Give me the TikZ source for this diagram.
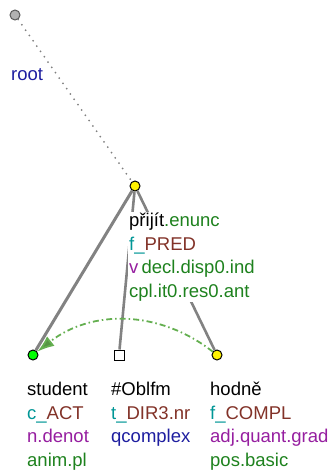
\documentclass[tikz,border=0pt]{standalone}
\usepackage{fontspec}
\setmainfont{Liberation Sans}
\usetikzlibrary{arrows.meta}

\definecolor{lemmacol}{RGB}{0,0,0}
\definecolor{tagcol}{RGB}{30,130,30}
\definecolor{funcol}{RGB}{0,150,150}
\definecolor{afuncol}{RGB}{130,50,40}
\definecolor{semcol}{RGB}{150,30,160}
\definecolor{rootcol}{RGB}{30,30,160}
\definecolor{edgecol}{RGB}{130,130,130}
\definecolor{corefcol}{RGB}{100,175,80}

\begin{document}
\begin{tikzpicture}
[
	x=1pt,
	y=-1pt,
	tnode/.style={circle,draw=black,line width=1pt,inner sep=0pt,minimum size=10pt},
	hiddennode/.style={rectangle,draw=black,line width=1pt,fill=white,inner sep=0pt,minimum size=10pt},
	lbl/.style={anchor=north west,align=left,fill=white,inner sep=1pt,
		font=\fontsize{18.5}{23.5}\selectfont},
	edge/.style={draw=edgecol,line width=2.6pt},
	coref/.style={draw=corefcol,line width=1.8pt,dash pattern=on 6pt off 3pt on 1.5pt off 3pt}
]

	\useasboundingbox (0,0) rectangle (334,474);

	% nodes
	\node[tnode,fill=gray!60,draw=gray!70!black] (root) at (15,15) {};
	\node[tnode,fill=yellow] (prijit) at (135,186) {};
	\node[tnode,fill=green] (student) at (33,355) {};
	\node[hiddennode] (oblfm) at (119,355) {};
	\node[tnode,fill=yellow] (hodne) at (217,355) {};

	% edges
	\draw[draw=gray,line width=2pt,line cap=round,dash pattern=on 0pt off 6.5pt] (root) -- (prijit);
	\draw[edge,line width=3pt] (prijit) -- (student);
	\draw[edge] (prijit) -- (oblfm);
	\draw[edge] (prijit) -- (hodne);

	% coreference
	\draw[coref,-{Latex[length=17pt,width=12pt,fill=corefcol!85!black]}] (hodne) to[bend right=38] (student);

	% labels
	\node[lbl,anchor=west,fill=none] (root-lbl) at (10,75)
		{\textcolor{rootcol}{root}};
	\node[lbl] (prijit-lbl) at (128,212)
		{\textcolor{lemmacol}{přijít}\textcolor{tagcol}{.enunc}\\
		 \textcolor{funcol}{f\_}\textcolor{afuncol}{PRED}\\
		 \textcolor{semcol}{v}\,\textcolor{tagcol}{decl.disp0.ind}\\
		 \textcolor{tagcol}{cpl.it0.res0.ant}};
	\node[lbl] (student-lbl) at (26,381)
		{\textcolor{lemmacol}{student}\\
		 \textcolor{funcol}{c\_}\textcolor{afuncol}{ACT}\\
		 \textcolor{semcol}{n.denot}\\
		 \textcolor{tagcol}{anim.pl}};
	\node[lbl] (oblfm-lbl) at (110,381)
		{\textcolor{lemmacol}{\#Oblfm}\\
		 \textcolor{funcol}{t\_}\textcolor{afuncol}{DIR3}\textcolor{afuncol}{.nr}\\
		 \textcolor{rootcol}{qcomplex}};
	\node[lbl] (hodne-lbl) at (209,381)
		{\textcolor{lemmacol}{hodně}\\
		 \textcolor{funcol}{f\_}\textcolor{afuncol}{COMPL}\\
		 \textcolor{semcol}{adj.quant.grad}\\
		 \textcolor{tagcol}{pos.basic}};

\end{tikzpicture}
\end{document}
